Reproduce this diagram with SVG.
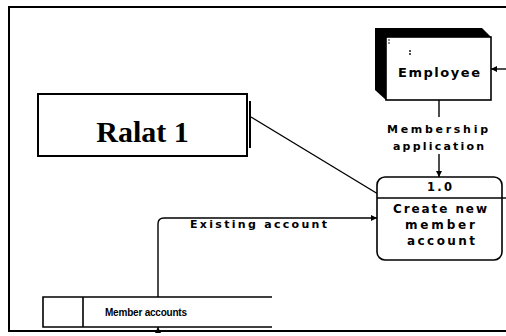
<svg xmlns="http://www.w3.org/2000/svg" width="506" height="336" viewBox="0 0 506 336">
<style>
.ln{fill:none;stroke:#000;stroke-width:1.4}
.bx{fill:#fff;stroke:#000;stroke-width:1.6}
.t{font-family:"DejaVu Sans","Liberation Sans",sans-serif;font-weight:bold;fill:#000;text-anchor:start}
.s{font-family:"Liberation Sans",Arial,sans-serif;font-weight:bold;fill:#000}
</style>
<defs>
<marker id="ah" viewBox="0 0 10 10" refX="10" refY="5" markerWidth="6" markerHeight="6" markerUnits="userSpaceOnUse" orient="auto">
<path d="M0,0 L10,5 L0,10 Z" fill="#000"/>
</marker>
</defs>
<rect width="506" height="336" fill="#fff"/>
<g id="frame">
<path d="M506,7 L9,7 L9,331 L506,331" fill="none" stroke="#000" stroke-width="2"/>
</g>
<g id="connectors">
<line class="ln" x1="506" y1="69" x2="491" y2="69" marker-end="url(#ah)"/>
<line class="ln" x1="439" y1="100" x2="439" y2="117"/>
<line class="ln" x1="439" y1="154" x2="439" y2="177" marker-end="url(#ah)"/>
<line class="ln" x1="251" y1="117" x2="378" y2="194"/>
<path class="ln" d="M158,297 L158,224 Q158,218 164,218 L377,218" marker-end="url(#ah)"/>
<line class="ln" x1="158" y1="331" x2="158" y2="327" marker-end="url(#ah)"/>
<line class="ln" x1="502" y1="198" x2="506" y2="198"/>
<text class="t" x="387" y="133" font-size="11" textLength="101" lengthAdjust="spacing">Membership</text>
<text class="t" x="393" y="150" font-size="11" textLength="91" lengthAdjust="spacing">application</text>
<text class="t" x="190" y="228" font-size="11" textLength="137" lengthAdjust="spacing">Existing account</text>
</g>
<g id="employee">
<path d="M375,28 L482,28 L491,37 L491,100 L386,100 L375,90 Z" fill="#000"/>
<rect class="bx" x="386" y="37" width="105" height="63"/>
<circle cx="389" cy="40" r="0.8" fill="#000"/>
<circle cx="389" cy="43" r="0.8" fill="#000"/>
<circle cx="410" cy="51" r="0.9" fill="#000"/>
<circle cx="410" cy="54" r="0.9" fill="#000"/>
<text class="t" x="398" y="77" font-size="13" textLength="82" lengthAdjust="spacing">Employee</text>
</g>
<g id="ralat">
<rect x="38" y="94" width="209" height="62" fill="#fff" stroke="#000" stroke-width="2"/>
<line x1="250" y1="101" x2="250" y2="148" stroke="#000" stroke-width="2"/>
<text x="142.5" y="142" font-family="'Liberation Serif','Times New Roman',serif" font-weight="bold" font-size="30" text-anchor="middle">Ralat 1</text>
</g>
<g id="process">
<rect class="bx" x="377" y="177" width="125" height="83" rx="8"/>
<line class="ln" x1="377" y1="198" x2="502" y2="198"/>
<text class="t" x="427" y="191" font-size="11.5" textLength="25" lengthAdjust="spacing">1.0</text>
<text class="t" x="393" y="213" font-size="12" textLength="94" lengthAdjust="spacing">Create new</text>
<text class="t" x="405" y="229" font-size="12" textLength="70" lengthAdjust="spacing">member</text>
<text class="t" x="407" y="245" font-size="12" textLength="68" lengthAdjust="spacing">account</text>
</g>
<g id="store">
<path d="M272,297 L43,297 L43,327 L272,327 M83,297 L83,327" fill="none" stroke="#000" stroke-width="1.6"/>
<text class="s" x="105" y="316" font-size="10" textLength="82" lengthAdjust="spacing">Member accounts</text>
</g>
</svg>
